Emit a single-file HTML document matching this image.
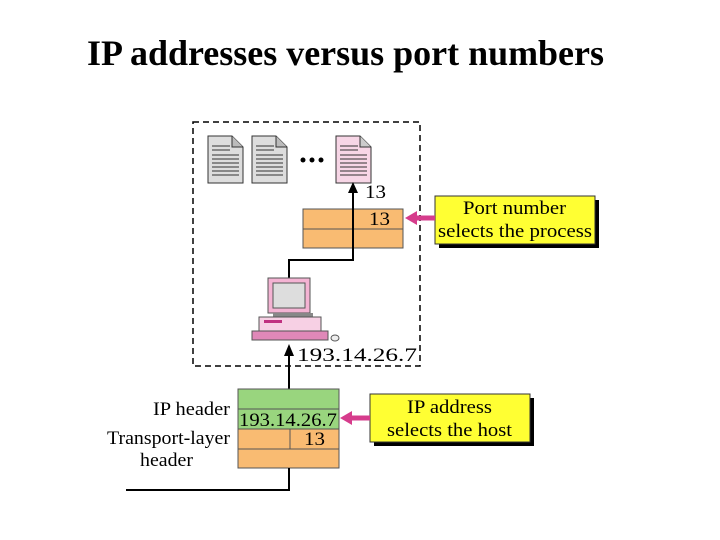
<!DOCTYPE html>
<html><head><style>
body{margin:0;background:#fff;}
svg{display:block;font-family:"Liberation Serif",serif;}
</style></head><body>
<svg width="720" height="540" viewBox="0 0 720 540">
<text x="87" y="65" font-size="36" font-weight="bold" textLength="517" lengthAdjust="spacingAndGlyphs">IP addresses versus port numbers</text>
<rect x="193" y="122" width="227" height="244" fill="none" stroke="#000" stroke-width="1.5" stroke-dasharray="6,4"/>
<defs>
<g id="doc"><path d="M0 0 H24 L35 11 V47 H0 Z" fill="#ddd" stroke="#333"/><path d="M24 0 V11 H35" fill="#bbb" stroke="#333"/>
<g stroke="#333" stroke-width="1"><line x1="4" y1="10" x2="22" y2="10"/><line x1="4" y1="14" x2="22" y2="14"/><line x1="4" y1="19" x2="31" y2="19"/><line x1="4" y1="23" x2="31" y2="23"/><line x1="4" y1="27" x2="31" y2="27"/><line x1="4" y1="31" x2="31" y2="31"/><line x1="4" y1="35" x2="31" y2="35"/><line x1="4" y1="39" x2="31" y2="39"/></g></g>
</defs>
<use href="#doc" x="208" y="136"/>
<use href="#doc" x="252" y="136"/>
<path d="M336 136 H360 L371 147 V183 H336 Z" fill="#f7d6e6" stroke="#333"/><path d="M360 136 V147 H371" fill="#ccc" stroke="#333"/>
<g stroke="#333"><line x1="340" y1="146" x2="358" y2="146"/><line x1="340" y1="150" x2="358" y2="150"/><line x1="340" y1="155" x2="367" y2="155"/><line x1="340" y1="159" x2="367" y2="159"/><line x1="340" y1="163" x2="367" y2="163"/><line x1="340" y1="167" x2="367" y2="167"/><line x1="340" y1="171" x2="367" y2="171"/><line x1="340" y1="175" x2="367" y2="175"/></g>
<circle cx="303" cy="160" r="2.5"/><circle cx="312" cy="160" r="2.5"/><circle cx="321" cy="160" r="2.5"/>
<rect x="303" y="209" width="100" height="39" fill="#f9bb72" stroke="#555"/>
<line x1="303" y1="229" x2="403" y2="229" stroke="#555"/>
<text x="369" y="225" font-size="19" textLength="21" lengthAdjust="spacingAndGlyphs">13</text>
<text x="365" y="198" font-size="19" textLength="21" lengthAdjust="spacingAndGlyphs">13</text>
<path d="M289 278 V260 H353 V190" fill="none" stroke="#000" stroke-width="2"/>
<path d="M353 182 L348 193 L358 193 Z"/>
<rect x="268" y="278" width="42" height="35" fill="#f4b3d3" stroke="#555"/>
<rect x="273" y="283" width="32" height="25" fill="#ddd" stroke="#555"/>
<rect x="273" y="313" width="40" height="4" fill="#888"/>
<rect x="259" y="317" width="62" height="14" fill="#f7d0e4" stroke="#555"/>
<rect x="264" y="320" width="18" height="3" fill="#c03080"/>
<rect x="252" y="331" width="76" height="9" fill="#e088b8" stroke="#555"/>
<ellipse cx="335" cy="338" rx="4" ry="3" fill="#eee" stroke="#555"/>
<line x1="289" y1="490" x2="289" y2="352" stroke="#000" stroke-width="2"/>
<path d="M289 344 L284 356 L294 356 Z"/>
<text x="297" y="361" font-size="19" textLength="120" lengthAdjust="spacingAndGlyphs">193.14.26.7</text>
<rect x="439" y="200" width="160" height="48" fill="#000"/>
<rect x="435" y="196" width="160" height="48" fill="#ffff33" stroke="#333"/>
<text x="463" y="214" font-size="19" textLength="103" lengthAdjust="spacingAndGlyphs">Port number</text>
<text x="438" y="237" font-size="19" textLength="154" lengthAdjust="spacingAndGlyphs">selects the process</text>
<line x1="435" y1="218" x2="415" y2="218" stroke="#d63c8c" stroke-width="5"/>
<path d="M405 218 L417 211 L417 225 Z" fill="#d63c8c"/>
<rect x="238" y="389" width="101" height="40" fill="#99d57e" stroke="#555"/>
<line x1="238" y1="409" x2="339" y2="409" stroke="#555"/>
<rect x="238" y="429" width="101" height="39" fill="#f9bb72" stroke="#555"/>
<line x1="238" y1="449" x2="339" y2="449" stroke="#555"/>
<line x1="290" y1="429" x2="290" y2="449" stroke="#555"/>
<text x="239" y="426" font-size="19" textLength="98" lengthAdjust="spacingAndGlyphs">193.14.26.7</text>
<text x="304" y="445" font-size="19" textLength="21" lengthAdjust="spacingAndGlyphs">13</text>
<text x="153" y="415" font-size="19" textLength="77" lengthAdjust="spacingAndGlyphs">IP header</text>
<text x="107" y="444" font-size="19" textLength="123" lengthAdjust="spacingAndGlyphs">Transport-layer</text>
<text x="140" y="466" font-size="19" textLength="53" lengthAdjust="spacingAndGlyphs">header</text>
<path d="M289 468 V490 H126" fill="none" stroke="#000" stroke-width="2"/>
<rect x="374" y="398" width="160" height="48" fill="#000"/>
<rect x="370" y="394" width="160" height="48" fill="#ffff33" stroke="#333"/>
<text x="407" y="413" font-size="19" textLength="85" lengthAdjust="spacingAndGlyphs">IP address</text>
<text x="387" y="436" font-size="19" textLength="125" lengthAdjust="spacingAndGlyphs">selects the host</text>
<line x1="370" y1="418" x2="350" y2="418" stroke="#d63c8c" stroke-width="5"/>
<path d="M340 418 L352 411 L352 425 Z" fill="#d63c8c"/>
</svg>
</body></html>
